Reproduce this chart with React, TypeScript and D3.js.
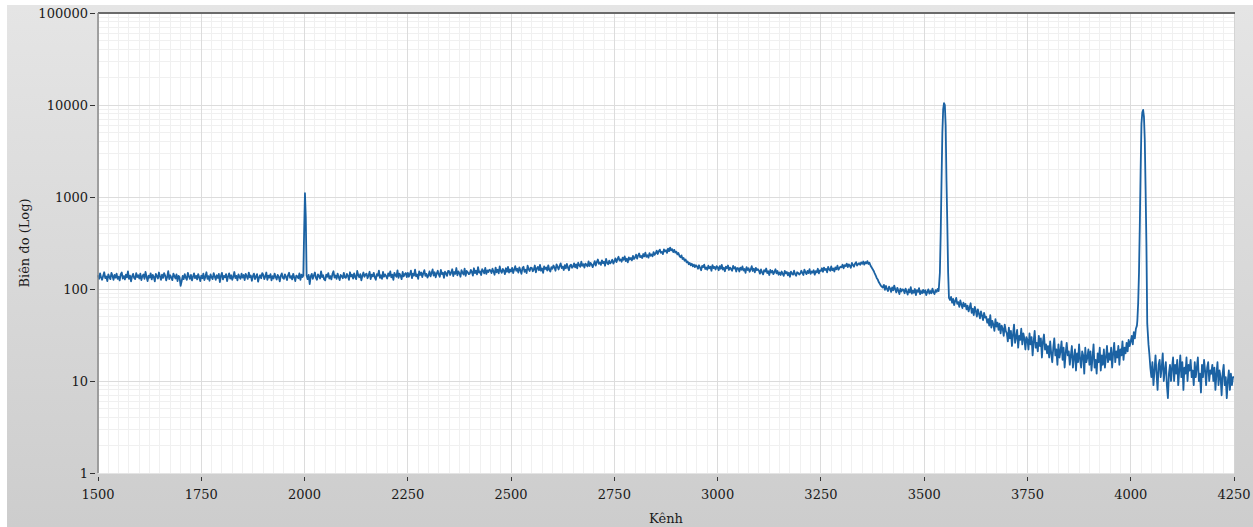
import React from 'react';
import * as d3 from 'd3';

// spectrum counts, channel 1500..4250 every 2.5 channels
const channelStart = 1500;
const channelStep = 2.5;
const counts = [
  141, 129, 148, 133, 126, 139, 152, 131, 137, 122, 144, 135, 128, 150, 139, 126, 142, 133, 147, 129,
  136, 124, 145, 151, 130, 138, 127, 143, 134, 155, 129, 140, 121, 137, 146, 132, 128, 149, 135, 141,
  130, 147, 125, 138, 144, 129, 153, 136, 122, 140, 133, 148, 127, 142, 135, 121, 146, 138, 130, 151,
  137, 126, 143, 132, 149, 140, 124, 135, 156, 128, 141, 133, 125, 147, 138, 130, 144, 122, 139, 134,
  108, 121, 139, 128, 145, 133, 126, 150, 137, 129, 142, 124, 136, 148, 131, 139, 127, 145, 134, 122,
  140, 131, 147, 125, 136, 152, 129, 138, 123, 144, 134, 128, 149, 137, 126, 141, 132, 146, 119, 138,
  150, 127, 139, 134, 145, 122, 137, 148, 130, 141, 126, 136, 153, 131, 139, 124, 144, 135, 129, 147,
  133, 142, 125, 146, 137, 129, 151, 134, 140, 123, 138, 147, 128, 136, 145, 120, 134, 141, 131, 149,
  143, 128, 137, 151, 126, 140, 133, 145, 124, 138, 130, 147, 135, 127, 142, 136, 121, 139, 148, 132,
  129, 144, 136, 125, 141, 150, 132, 138, 127, 146, 134, 122, 140, 137, 131, 148, 126, 143, 135, 139,
  135, 135, 135, 128, 142, 113, 137, 146, 129, 140, 151, 132, 126, 144, 138, 130, 155, 135, 141, 127,
  124, 143, 136, 149, 130, 138, 127, 145, 156, 133, 140, 129, 147, 135, 125, 142, 138, 131, 150, 134,
  132, 146, 139, 126, 152, 137, 143, 130, 148, 135, 128, 157, 141, 134, 145, 124, 139, 151, 136, 143,
  147, 131, 140, 154, 128, 143, 137, 150, 134, 126, 145, 139, 158, 132, 141, 129, 153, 136, 144, 138,
  130, 148, 139, 155, 134, 143, 126, 150, 141, 136, 159, 132, 147, 140, 128, 153, 137, 145, 149, 135,
  150, 136, 145, 158, 131, 147, 140, 162, 137, 144, 129, 155, 142, 151, 135, 148, 160, 139, 146, 133,
  141, 155, 137, 149, 163, 140, 152, 134, 147, 158, 143, 136, 161, 145, 150, 132, 154, 148, 139, 157,
  156, 142, 151, 164, 138, 153, 146, 169, 141, 155, 148, 136, 160, 150, 144, 166, 139, 157, 152, 145,
  147, 161, 153, 140, 168, 149, 158, 144, 173, 151, 155, 142, 164, 157, 148, 170, 146, 159, 153, 162,
  160, 149, 166, 155, 143, 171, 152, 162, 148, 176, 157, 150, 165, 159, 145, 168, 154, 174, 151, 163,
  155, 170, 149, 163, 177, 158, 166, 151, 172, 160, 146, 168, 175, 154, 162, 149, 179, 164, 157, 171,
  170, 156, 163, 180, 152, 168, 174, 160, 183, 158, 167, 150, 176, 165, 171, 159, 181, 162, 155, 173,
  166, 180, 171, 158, 185, 174, 163, 178, 190, 169, 175, 161, 182, 168, 187, 172, 160, 179, 184, 170,
  176, 190, 172, 185, 168, 193, 181, 174, 198, 179, 186, 171, 189, 183, 176, 200, 178, 192, 185, 173,
  186, 201, 180, 196, 209, 188, 194, 183, 205, 191, 198, 179, 212, 193, 186, 203, 190, 197, 208, 189,
  200, 215, 196, 211, 224, 204, 210, 198, 219, 208, 226, 201, 213, 195, 221, 209, 217, 205, 229, 212,
  220, 236, 214, 231, 243, 222, 229, 217, 240, 226, 248, 224, 233, 219, 245, 230, 238, 227, 252, 235,
  244, 261, 240, 257, 268, 248, 253, 239, 270, 256, 264, 247, 275, 258, 282, 263, 271, 252, 266, 249,
  255, 238, 246, 229, 221, 232, 212, 218, 203, 209, 195, 199, 186, 192, 181, 188, 176, 184, 173, 181,
  176, 166, 181, 170, 160, 178, 173, 184, 165, 171, 162, 179, 168, 175, 158, 182, 169, 174, 163, 177,
  172, 160, 177, 166, 183, 163, 170, 156, 175, 168, 180, 161, 171, 165, 158, 178, 167, 173, 155, 169,
  168, 155, 171, 162, 176, 159, 165, 150, 173, 161, 168, 154, 163, 177, 157, 166, 152, 170, 160, 164,
  158, 147, 163, 152, 144, 160, 155, 167, 149, 156, 142, 161, 151, 158, 145, 153, 164, 148, 157, 143,
  151, 142, 155, 146, 139, 157, 148, 153, 141, 150, 136, 154, 147, 143, 158, 145, 139, 152, 149, 144,
  147, 158, 150, 142, 162, 153, 145, 157, 149, 164, 146, 155, 151, 160, 143, 156, 152, 166, 148, 159,
  157, 168, 154, 171, 161, 165, 152, 174, 163, 158, 176, 160, 167, 155, 172, 164, 179, 162, 169, 175,
  172, 184, 168, 181, 177, 189, 173, 185, 179, 170, 192, 182, 175, 188, 196, 180, 186, 191, 183, 195,
  188, 199, 184, 196, 190, 201, 187, 193, 180, 172, 165, 158, 149, 141, 132, 127, 119, 114, 109, 106,
  104, 111, 98, 108, 100, 95, 106, 101, 93, 104, 97, 109, 99, 92, 103, 96, 88, 101, 94, 99,
  98, 90, 101, 94, 87, 99, 92, 105, 89, 96, 91, 100, 86, 97, 93, 102, 88, 95, 90, 98,
  91, 97, 86, 93, 99, 89, 95, 90, 101, 92, 88, 97, 93, 100, 95, 103, 108, 116, 125, 140,
  95, 90, 85, 80, 78, 76, 82, 71, 78, 67, 74, 80, 69, 72, 64, 75, 68, 62, 71, 65,
  69, 60, 66, 57, 63, 70, 55, 61, 52, 64, 58, 50, 60, 54, 48, 57, 51, 46, 55, 49,
  50, 43, 47, 40, 52, 38, 45, 41, 35, 47, 39, 43, 36, 42, 33, 40, 37, 31, 41, 35,
  33, 27, 38, 29, 35, 24, 32, 41, 26, 30, 36, 23, 31, 28, 37, 25, 33, 29, 22, 30,
  28, 22, 33, 25, 30, 19, 27, 35, 23, 26, 21, 31, 24, 29, 18, 27, 32, 22, 25, 20,
  24, 18, 27, 20, 16, 23, 29, 19, 22, 15, 25, 18, 21, 27, 17, 23, 14, 20, 26, 19,
  21, 15, 19, 24, 14, 18, 22, 13, 20, 16, 25, 17, 14, 21, 19, 12, 23, 16, 18, 22,
  15, 21, 13, 18, 25, 14, 17, 12, 20, 16, 23, 13, 19, 15, 22, 14, 18, 24, 16, 20,
  17, 23, 14, 20, 26, 16, 21, 18, 24, 15, 22, 19, 27, 17, 23, 20, 26, 21, 28, 24,
  27, 31, 25, 34, 29, 37, 40, 38, 36, 35, 34, 33, 31, 30, 28, 26, 24, 22, 20, 14,
  11, 16, 9, 13, 19, 12, 8, 15, 17, 11, 14, 20, 10, 13, 16, 9, 6.5, 12, 15, 10,
  14, 18, 10, 15, 12, 17, 9, 13, 19, 11, 16, 8, 14, 12, 18, 10, 15, 13, 17, 11,
  13, 9, 16, 11, 14, 18, 10, 12, 7.5, 15, 11, 17, 13, 9, 14, 16, 10, 13, 12, 15,
  10, 14, 8, 12, 16, 9, 13, 11, 7, 12, 15, 9, 11, 6.5, 10, 13, 8, 12, 9, 11,
  11,
];

// narrow peaks sampled finer: [channel, counts]
const peak2000 = [[1997, 140], [1999, 420], [2001, 1100], [2003, 600], [2005, 140]];
const peak3548 = [
  [3536, 110], [3538, 150], [3540, 400], [3542, 1500], [3544, 5000], [3546, 9000],
  [3548, 10500], [3550, 10000], [3552, 6000], [3554, 1500], [3556, 500], [3558, 150], [3560, 80],
];
const peak4030 = [
  [4016, 45], [4018, 70], [4020, 150], [4022, 500], [4024, 2000], [4026, 6300], [4028, 8300],
  [4030, 8830], [4032, 7500], [4034, 4200], [4036, 1200], [4038, 300], [4040, 42], [4043, 25],
];
const peaks = [peak2000, peak3548, peak4030];

const xTicks = [1500, 1750, 2000, 2250, 2500, 2750, 3000, 3250, 3500, 3750, 4000, 4250];
const yTicks = [1, 10, 100, 1000, 10000, 100000];

const W = 1253;
const H = 527;
const left = 98;
const right = 1234;
const top = 13;
const bottom = 473;
const font = '"DejaVu Serif", serif';

export default function App() {
  const x = d3.scaleLinear().domain([1500, 4250]).range([left, right]);
  const y = d3.scaleLog().domain([1, 100000]).range([bottom, top]);

  let series: number[][] = counts.map((v, i) => [channelStart + i * channelStep, v]);
  peaks.forEach(p => {
    const lo = p[0][0];
    const hi = p[p.length - 1][0];
    series = series.filter(d => d[0] < lo || d[0] > hi).concat(p);
  });
  series.sort((a, b) => a[0] - b[0]);

  const line = d3.line<number[]>()
    .x(d => x(d[0]))
    .y(d => y(d[1]));

  const minorX = d3.range(1500, 4251, 25).filter(v => v % 250 !== 0);
  const minorY: number[] = [];
  for (let e = 0; e < 5; e++) {
    for (let k = 2; k < 10; k++) minorY.push(k * Math.pow(10, e));
  }

  return (
    <svg width={W} height={H} style={{ position: 'absolute', left: 0, top: 0 }}>
      <defs>
        <linearGradient id="bg" x1="0" y1="0" x2="0" y2="1">
          <stop offset="0" stopColor="#e5e5e5" />
          <stop offset="1" stopColor="#cdcdcd" />
        </linearGradient>
      </defs>
      <rect x={0} y={0} width={W} height={H} fill="#fff" />
      <rect x={7} y={5} width={W - 7} height={H - 5} fill="url(#bg)" />
      <rect x={left} y={top} width={right - left} height={bottom - top} fill="#fff" />

      <g shapeRendering="crispEdges">
        {minorX.map(v => (
          <line key={'mx' + v} x1={x(v)} x2={x(v)} y1={top} y2={bottom} stroke="#f0f0f0" />
        ))}
        {minorY.map(v => (
          <line key={'my' + v} x1={left} x2={right} y1={y(v)} y2={y(v)} stroke="#f0f0f0" />
        ))}
        {xTicks.map(v => (
          <line key={'gx' + v} x1={x(v)} x2={x(v)} y1={top} y2={bottom} stroke="#dcdcdc" />
        ))}
        {yTicks.map(v => (
          <line key={'gy' + v} x1={left} x2={right} y1={y(v)} y2={y(v)} stroke="#dcdcdc" />
        ))}
        <line x1={right} x2={right} y1={top} y2={bottom} stroke="#d4d4d4" />
        <line x1={left} x2={right} y1={bottom} y2={bottom} stroke="#e4e4e4" />
      </g>

      <path d={line(series) || ''} fill="none" stroke="#1b62a3" strokeWidth={1.8} strokeLinejoin="round" />

      <line x1={left} x2={right + 1} y1={top} y2={top} stroke="#6a6a6a" strokeWidth={2} />
      <line x1={left} x2={left} y1={top} y2={bottom} stroke="#8a8a8a" strokeWidth={1.5} />

      <g fontFamily={font} fontSize={13} fill="#1a1a1a">
        {yTicks.map(v => (
          <g key={'ty' + v}>
            <line x1={90} x2={95} y1={y(v)} y2={y(v)} stroke="#333" shapeRendering="crispEdges" />
            <text x={88} y={y(v)} dy="0.35em" textAnchor="end">{v}</text>
          </g>
        ))}
        {xTicks.map(v => (
          <g key={'tx' + v}>
            <line x1={x(v)} x2={x(v)} y1={477} y2={481} stroke="#333" shapeRendering="crispEdges" />
            <text x={x(v)} y={499} textAnchor="middle">{v}</text>
          </g>
        ))}
        <text x={(left + right) / 2} y={523} textAnchor="middle">Kênh</text>
        <text
          transform={`translate(29, ${(top + bottom) / 2}) rotate(-90)`}
          textAnchor="middle"
        >
          Biên đo (Log)
        </text>
      </g>
    </svg>
  );
}
